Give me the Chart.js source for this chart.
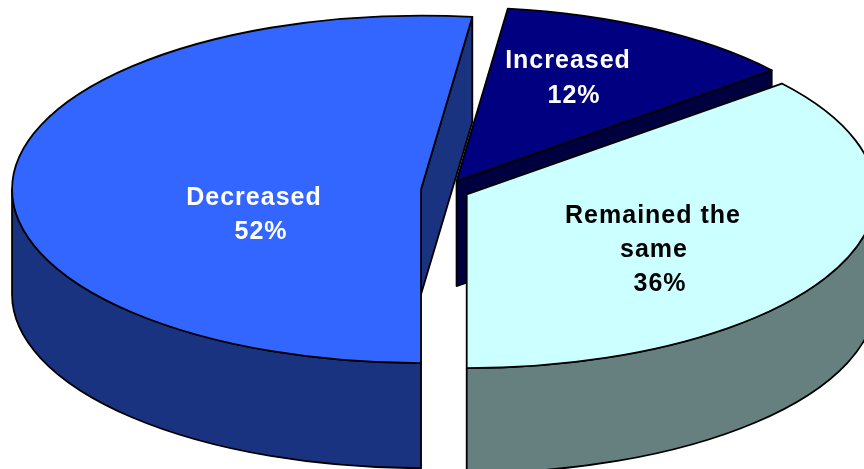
<!DOCTYPE html>
<html lang="en">
<head>
    <meta charset="UTF-8">
    <title>3D pie</title>
    <script src="https://cdn.jsdelivr.net/npm/chart.js"></script>
    <style>
        * { margin: 0; padding: 0; }
        body { background: #fff; overflow: hidden; }
        #wrap { width: 864px; height: 469px; }
    </style>
</head>
<body>
    <div id="wrap"><canvas id="pie" width="864" height="469"></canvas></div>

    <script>
        const categories = ['Decreased', 'Increased', 'Remained the same'];
        const values = [52, 12, 36];
        const topColors = ['#3366ff', '#000080', '#ccffff'];
        const wallColors = ['#1a3380', '#000040', '#668080'];
        const textColors = ['#ffffff', '#ffffff', '#000000'];
        const labelLines = [['Decreased'], ['Increased'], ['Remained the', 'same']];

        // label layout, one [centre x, baseline y] per line
        const labelSpots = [
            [[254, 205], [261, 239]],
            [[568, 68], [574, 103]],
            [[653, 223], [654, 257], [660, 291]]
        ];

        const radius = 409;
        const squash = 0.425;     // ellipse height / width
        const explode = 24;       // how far slices are pulled out
        const depth = 105;        // wall height
        const pieX = 445, pieY = 190;
        const outline = 1.8;

        function toScreen(chart) {
            const a = chart.chartArea;
            const cx = (a.left + a.right) / 2, cy = (a.top + a.bottom) / 2;
            return { cx, cy, dx: pieX - cx, dy: pieY - cy * squash };
        }

        // screen geometry of a slice, apex + angles (start kept below pi)
        function shape(chart, arc) {
            const t = toScreen(chart);
            const turn = arc.startAngle > Math.PI ? 2 * Math.PI : 0;
            return {
                x: arc.x + t.dx,
                y: arc.y * squash + t.dy,
                start: arc.startAngle - turn,
                end: arc.endAngle - turn
            };
        }

        function edge(s, angle, down) {
            return [s.x + Math.cos(angle) * radius, s.y + Math.sin(angle) * radius * squash + (down || 0)];
        }

        const pie3d = {
            id: 'pie3d',
            beforeDatasetsDraw(chart) {
                const t = toScreen(chart);
                const arcs = chart.getDatasetMeta(0).data;
                const ctx = chart.ctx;
                arcs.forEach(arc => {
                    const mid = (arc.startAngle + arc.endAngle) / 2;
                    arc.x = t.cx + Math.cos(mid) * explode;
                    arc.y = t.cy + Math.sin(mid) * explode;
                });

                ctx.save();
                ctx.lineWidth = outline;
                ctx.strokeStyle = '#000';
                ctx.lineJoin = 'round';
                // back slices first
                [1, 0, 2].forEach(i => {
                    const s = shape(chart, arcs[i]);
                    ctx.fillStyle = wallColors[i];
                    if (Math.cos(s.end) > 0.001) {
                        const p = edge(s, s.end), q = edge(s, s.end, depth);
                        ctx.beginPath();
                        ctx.moveTo(s.x, s.y);
                        ctx.lineTo(p[0], p[1]);
                        ctx.lineTo(q[0], q[1]);
                        ctx.lineTo(s.x, s.y + depth);
                        ctx.closePath();
                        ctx.fill();
                        ctx.stroke();
                    }
                    const from = Math.max(s.start, 0), to = Math.min(s.end, Math.PI);
                    if (to > from) {
                        ctx.beginPath();
                        ctx.ellipse(s.x, s.y, radius, radius * squash, 0, from, to);
                        ctx.ellipse(s.x, s.y + depth, radius, radius * squash, 0, to, from, true);
                        ctx.closePath();
                        ctx.fill();
                        ctx.stroke();
                    }
                });
                ctx.restore();

                // squash the round pie into the ellipse, undone in afterDatasetsDraw
                ctx.save();
                ctx.translate(t.dx, t.dy);
                ctx.scale(1, squash);
            },
            afterDatasetsDraw(chart) {
                const ctx = chart.ctx;
                const arcs = chart.getDatasetMeta(0).data;
                ctx.restore();

                ctx.save();
                ctx.lineWidth = outline;
                ctx.strokeStyle = '#000';
                ctx.lineJoin = 'round';
                arcs.forEach(arc => {
                    const s = shape(chart, arc);
                    ctx.beginPath();
                    ctx.moveTo(s.x, s.y);
                    ctx.ellipse(s.x, s.y, radius, radius * squash, 0, s.start, s.end);
                    ctx.closePath();
                    ctx.stroke();
                });

                ctx.font = 'bold 25px "Liberation Sans", Arial, sans-serif';
                ctx.letterSpacing = '1px';
                ctx.textAlign = 'center';
                ctx.textBaseline = 'alphabetic';
                categories.forEach((c, i) => {
                    const lines = labelLines[i].concat(values[i] + '%');
                    ctx.fillStyle = textColors[i];
                    lines.forEach((line, j) => {
                        ctx.fillText(line, labelSpots[i][j][0], labelSpots[i][j][1]);
                    });
                });
                ctx.restore();
            }
        };

        new Chart(document.getElementById('pie'), {
            type: 'pie',
            data: {
                labels: categories,
                datasets: [{
                    data: values,
                    backgroundColor: topColors,
                    borderWidth: 0,
                    clip: false
                }]
            },
            options: {
                responsive: false,
                animation: false,
                rotation: 180,
                radius: radius,
                layout: { padding: 0 },
                plugins: { legend: { display: false }, tooltip: { enabled: false } }
            },
            plugins: [pie3d]
        });
    </script>
</body>
</html>
